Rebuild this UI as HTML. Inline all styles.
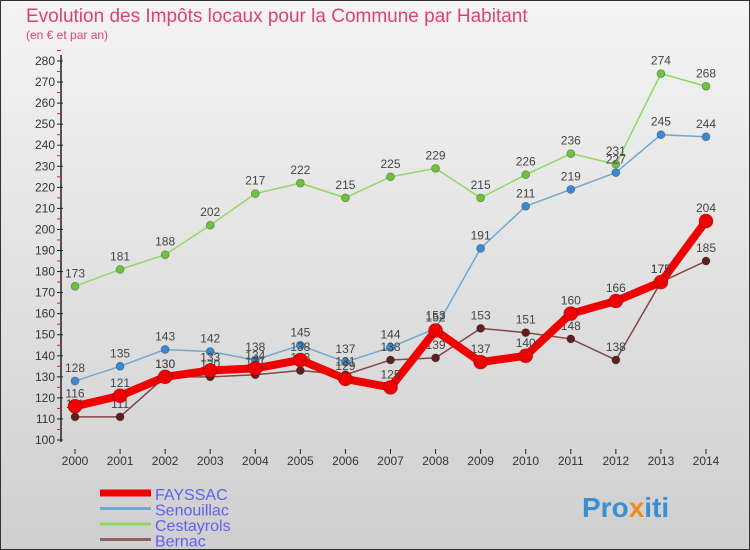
<!DOCTYPE html>
<html><head><meta charset="utf-8"><style>
body{margin:0}
#c{width:750px;height:550px;position:relative;overflow:hidden;font-family:"Liberation Sans",sans-serif}
</style></head><body>
<div id="c">
<svg id="s" width="750" height="550" xmlns="http://www.w3.org/2000/svg">
<defs><linearGradient id="bg" x1="0" y1="0" x2="0" y2="1"><stop offset="0" stop-color="#f4f4f4"/><stop offset="1" stop-color="#cfcfcf"/></linearGradient></defs>
<rect x="0.5" y="0.5" width="749" height="549" fill="url(#bg)" stroke="#333"/>
<text x="26" y="22" font-size="19" fill="#e0407a">Evolution des Impôts locaux pour la Commune par Habitant</text>
<text x="26" y="39" font-size="12" fill="#e0407a">(en € et par an)</text>
<g id="axes"></g><g id="series"></g><g id="legend"></g>
<text x="582" y="517" font-size="28" font-weight="bold" fill="#3a8fd0">Pro<tspan fill="#f08a20">x</tspan>iti</text>
</svg></div>
<script>
const years=[2000,2001,2002,2003,2004,2005,2006,2007,2008,2009,2010,2011,2012,2013,2014];
const fayssac=[116,121,130,133,134,138,129,125,152,137,140,160,166,175,204];
const senouillac=[128,135,143,142,138,145,137,144,153,191,211,219,227,245,244];
const cestayrols=[173,181,188,202,217,222,215,225,229,215,226,236,231,274,268];
const bernac=[111,111,130,130,131,133,131,138,139,153,151,148,138,175,185];
const yTicks=[100,110,120,130,140,150,160,170,180,190,200,210,220,230,240,250,260,270,280];
const seriesNames=["FAYSSAC","Senouillac","Cestayrols","Bernac"];
const NS="http://www.w3.org/2000/svg";
const X=i=>75+i*(706-75)/(years.length-1);
const Y=v=>440-(v-100)*(440-61)/180;
function mk(t,a,p){const e=document.createElementNS(NS,t);for(const k in a)e.setAttribute(k,a[k]);p.appendChild(e);return e;}
const ax=document.getElementById('axes');
const yl=mk('line',{x1:61,y1:55,x2:61,y2:442,stroke:'#222','stroke-width':1.5},ax);


yTicks.forEach(v=>{
 mk('line',{x1:57,y1:Y(v),x2:63,y2:Y(v),stroke:'#222'},ax);
 mk('line',{x1:57,y1:Y(v+5),x2:61,y2:Y(v+5),stroke:'#e02020'},ax);
 const t=mk('text',{x:55,y:Y(v)+4,'font-size':12,fill:'#333','text-anchor':'end'},ax);t.textContent=v;
 
 
});
years.forEach((yr,i)=>{
 mk('line',{x1:X(i),y1:449,x2:X(i),y2:454,stroke:'#222'},ax);
 const t=mk('text',{x:X(i),y:465,'font-size':12,fill:'#333','text-anchor':'middle'},ax);t.textContent=yr;
 
 
});
const sg=document.getElementById('series');
const defs=[[cestayrols,'#90d860','#70c040',1.5,4,'cestayrols'],[senouillac,'#70a8d0','#3a8ad0',1.5,4,'senouillac'],[bernac,'#804848','#602020',1.5,4,'bernac'],[fayssac,'#f00000','#f00000',8,7,'fayssac']];
defs.forEach(([d,lc,pc,w,r,n])=>{
 const g=mk('g',{},sg);
 
 
 const pl=mk('polyline',{points:d.map((v,i)=>X(i)+','+Y(v)).join(' '),fill:'none',stroke:lc,'stroke-width':w,'stroke-linejoin':'round'},g);
 
 
 d.forEach((v,i)=>{
  const c=mk('circle',{cx:X(i),cy:Y(v),r:r,fill:pc,stroke:'rgba(0,0,0,0.3)','stroke-width':0.8},g);
  
  
  const t=mk('text',{x:X(i),y:Y(v)-9,'font-size':12,fill:'#444','text-anchor':'middle'},g);t.textContent=v;
  
  
 });
});
const lg=document.getElementById('legend');
const lcol=['#f00000','#70a8d0','#90d860','#906060'],lw=[7,3,3,3];
seriesNames.forEach((n,i)=>{
 const y=493+i*15.5;
 const g=mk('g',{},lg);
 
 
 mk('line',{x1:100,y1:y,x2:151,y2:y,stroke:lcol[i],'stroke-width':lw[i]},g);
 const t=mk('text',{x:155,y:y+7,'font-size':16,fill:'#6060f0'},g);t.textContent=n;
});
</script>
</body></html>
